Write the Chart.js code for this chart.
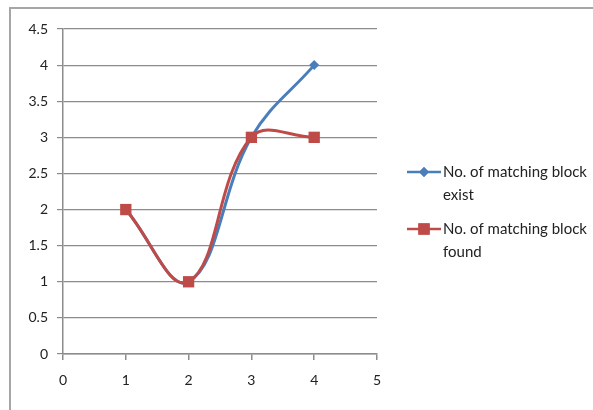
<!DOCTYPE html>
<html>
<head>
<meta charset="utf-8">
<script src="https://cdn.jsdelivr.net/npm/chart.js@4/dist/chart.umd.min.js"></script>
<style>
  html, body { margin: 0; padding: 0; background: #fff; }
  #wrap { width: 593px; height: 410px; }
</style>
</head>
<body>
<div id="wrap"><canvas id="grafico"></canvas></div>
<script>
// valores
const xValores = [1, 2, 3, 4];
const existentes = [2, 1, 3, 4];
const encontrados = [2, 1, 3, 3];
const nombreExiste = ['No. of matching block', 'exist'];
const nombreEncontrado = ['No. of matching block', 'found'];

const AZUL = '#4a7ebb';
const ROJO = '#be4b48';
const FUENTE = 'Lato, "Liberation Sans", sans-serif';

const puntos = (ys) => xValores.map((x, i) => ({ x: x, y: ys[i] }));

// marco y leyenda dibujados a mano (la leyenda tiene etiquetas de dos líneas)
const marcoYLeyenda = {
  id: 'marcoYLeyenda',
  beforeDraw(chart) {
    const ctx = chart.ctx;
    ctx.save();
    ctx.fillStyle = '#fff';
    ctx.fillRect(0, 0, chart.width, chart.height);
    ctx.strokeStyle = '#a6a6a6';
    ctx.lineWidth = 2;
    ctx.beginPath();
    ctx.moveTo(10, chart.height);
    ctx.lineTo(10, 8);
    ctx.lineTo(chart.width, 8);
    ctx.stroke();
    ctx.restore();
  },
  afterDraw(chart) {
    const ctx = chart.ctx;
    const items = [
      { color: AZUL, texto: nombreExiste, y: 172, forma: 'rectRot', r: 5 },
      { color: ROJO, texto: nombreEncontrado, y: 229, forma: 'rect', r: 8 }
    ];
    ctx.save();
    items.forEach((it) => {
      ctx.strokeStyle = it.color;
      ctx.lineWidth = 2.5;
      ctx.beginPath();
      ctx.moveTo(407, it.y);
      ctx.lineTo(441, it.y);
      ctx.stroke();
      ctx.fillStyle = it.color;
      Chart.helpers.drawPoint(ctx, { pointStyle: it.forma, radius: it.r, borderWidth: 0 }, 424, it.y);
      ctx.fill();
      ctx.fillStyle = '#222';
      ctx.font = '15px ' + FUENTE;
      ctx.textBaseline = 'middle';
      ctx.textAlign = 'left';
      it.texto.forEach((linea, k) => ctx.fillText(linea, 443, it.y + k * 23));
    });
    ctx.restore();
  }
};

new Chart(document.getElementById('grafico'), {
  type: 'line',
  data: {
    datasets: [
      {
        label: nombreExiste.join(' '),
        data: puntos(existentes),
        borderColor: AZUL,
        backgroundColor: AZUL,
        borderWidth: 3,
        pointStyle: 'rectRot',
        pointRadius: 5,
        pointBorderWidth: 0,
        tension: 0.4,
        order: 1
      },
      {
        label: nombreEncontrado.join(' '),
        data: puntos(encontrados),
        borderColor: ROJO,
        backgroundColor: ROJO,
        borderWidth: 3,
        pointStyle: 'rect',
        pointRadius: 8,
        pointBorderWidth: 0,
        tension: 0.4,
        order: 0
      }
    ]
  },
  options: {
    responsive: true,
    maintainAspectRatio: false,
    animation: false,
    layout: { padding: { left: 0, top: 29, right: 216, bottom: 0 } },
    plugins: {
      legend: { display: false },
      tooltip: { enabled: false }
    },
    scales: {
      x: {
        type: 'linear',
        min: 0,
        max: 5,
        afterFit: (s) => { s.height = 56; },
        ticks: { stepSize: 1, color: '#222', padding: 12, font: { family: FUENTE, size: 14 } },
        grid: { drawOnChartArea: false, tickLength: 6, tickColor: '#8c8c8c', lineWidth: 1.5 },
        border: { color: '#8c8c8c', width: 1.5 }
      },
      y: {
        min: 0,
        max: 4.5,
        afterFit: (s) => { s.width = 63; },
        ticks: {
          stepSize: 0.5,
          color: '#222',
          padding: 9,
          font: { family: FUENTE, size: 14 },
          callback: (v) => String(v)
        },
        grid: { color: '#8c8c8c', lineWidth: 1.2, tickLength: 6 },
        border: { color: '#8c8c8c', width: 1.5 }
      }
    }
  },
  plugins: [marcoYLeyenda]
});
</script>
</body>
</html>
